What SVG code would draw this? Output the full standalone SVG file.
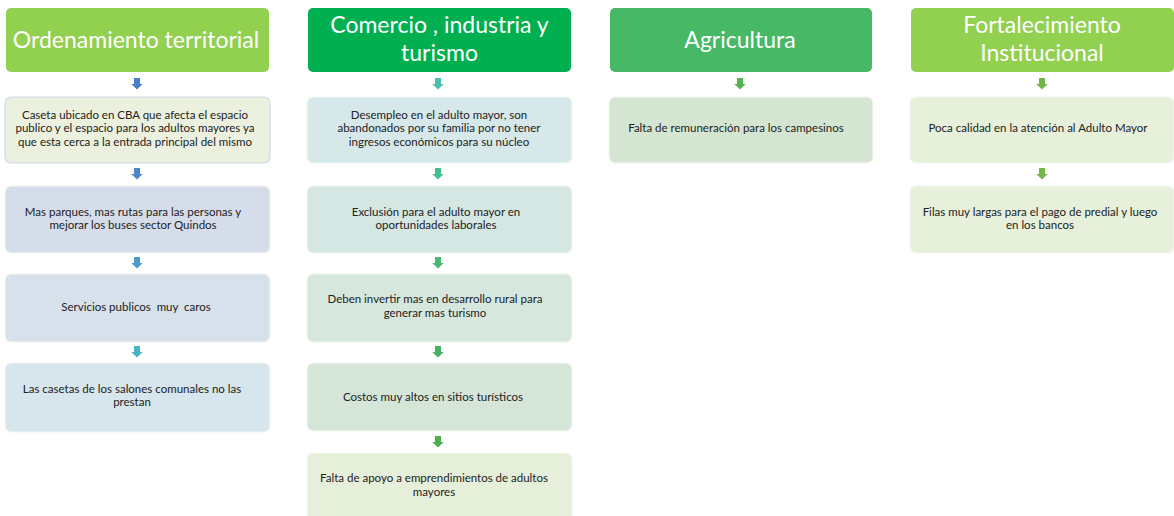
<svg xmlns="http://www.w3.org/2000/svg" xmlns:xlink="http://www.w3.org/1999/xlink" width="1174" height="516" viewBox="0 0 1174 516">
<style>
.hd{fill:#fff;font-family:Lato,"Open Sans",sans-serif;font-size:23px;text-anchor:middle}
.tx{fill:#222;font-family:Lato,"Open Sans",sans-serif;font-size:11.5px;text-anchor:middle}
.bx{stroke:#f4f7f2;stroke-width:1.2}
</style>
<defs>
<path id="arr" d="M-3,0 h6 v6 h2.7 l-5.7,5.5 l-5.7,-5.5 h2.7 z"/>
</defs>
<rect width="1174" height="516" fill="#fff"/>

<g id="connectors">
<use xlink:href="#arr" x="137" y="78" fill="#4A7FC6"/>
<use xlink:href="#arr" x="137" y="168" fill="#4C87C9"/>
<use xlink:href="#arr" x="137" y="257" fill="#4A9DC9"/>
<use xlink:href="#arr" x="137" y="346" fill="#4AB3C6"/>
<use xlink:href="#arr" x="438" y="78" fill="#4CBFB0"/>
<use xlink:href="#arr" x="438" y="168" fill="#44BD8F"/>
<use xlink:href="#arr" x="438" y="257" fill="#4AB872"/>
<use xlink:href="#arr" x="438" y="346" fill="#47B362"/>
<use xlink:href="#arr" x="438" y="436" fill="#4EAE4E"/>
<use xlink:href="#arr" x="740" y="78" fill="#56B452"/>
<use xlink:href="#arr" x="1042" y="78" fill="#6FB744"/>
<use xlink:href="#arr" x="1042" y="168" fill="#74B846"/>
</g>

<g id="h1"><rect x="6" y="8" width="263" height="64" rx="5" fill="#92D050"/><text class="hd" x="136" y="48">Ordenamiento territorial</text></g>
<g id="h2"><rect x="308" y="8" width="263" height="64" rx="5" fill="#00B050"/><text class="hd" x="439.5" y="33">Comercio , industria y</text><text class="hd" x="439.5" y="61">turismo</text></g>
<g id="h3"><rect x="610" y="8" width="262" height="64" rx="5" fill="#47B865"/><text class="hd" x="740" y="48">Agricultura</text></g>
<g id="h4"><rect x="911" y="8" width="263" height="64" rx="5" fill="#92D050"/><text class="hd" x="1042" y="33">Fortalecimiento</text><text class="hd" x="1042" y="61">Institucional</text></g>

<g id="c1b1"><rect class="bx" x="5" y="97" width="265" height="66" rx="6" fill="#EBF1DE" style="stroke:#CFD9EA"/><text class="tx" x="135" y="119">Caseta ubicado en CBA que afecta el espacio</text><text class="tx" x="135" y="132">publico y el espacio para los adultos mayores ya</text><text class="tx" x="135" y="146">que esta cerca a la entrada principal del mismo</text></g>
<g id="c1b2"><rect class="bx" x="5" y="186" width="265" height="67" rx="6" fill="#D5DDEA"/><text class="tx" x="133" y="216">Mas parques, mas rutas para las personas y</text><text class="tx" x="133" y="229">mejorar los buses sector Quindos</text></g>
<g id="c1b3"><rect class="bx" x="5" y="274" width="265" height="68" rx="6" fill="#D6E1EB"/><text class="tx" x="136" y="311" style="white-space:pre">Servicios publicos  muy  caros</text></g>
<g id="c1b4"><rect class="bx" x="5" y="363" width="265" height="69" rx="6" fill="#D6E6EC"/><text class="tx" x="132" y="393">Las casetas de los salones comunales no las</text><text class="tx" x="132" y="406">prestan</text></g>

<g id="c2b1"><rect class="bx" x="307" y="97" width="265" height="66" rx="6" fill="#D7E8EA"/><text class="tx" x="439" y="119">Desempleo en el adulto mayor, son</text><text class="tx" x="439" y="132">abandonados por su familia por no tener</text><text class="tx" x="439" y="146">ingresos económicos para su núcleo</text></g>
<g id="c2b2"><rect class="bx" x="307" y="186" width="265" height="67" rx="6" fill="#D5E7E3"/><text class="tx" x="436" y="216">Exclusión para el adulto mayor en</text><text class="tx" x="436" y="229">oportunidades laborales</text></g>
<g id="c2b3"><rect class="bx" x="307" y="274" width="265" height="68" rx="6" fill="#D6E8DE"/><text class="tx" x="435" y="303">Deben invertir mas en desarrollo rural para</text><text class="tx" x="435" y="317">generar mas turismo</text></g>
<g id="c2b4"><rect class="bx" x="307" y="363" width="265" height="68" rx="6" fill="#D5E6D8"/><text class="tx" x="433" y="401">Costos muy altos en sitios turísticos</text></g>
<g id="c2b5"><rect class="bx" x="307" y="453" width="265" height="70" rx="6" fill="#E6EFDA"/><text class="tx" x="434" y="482">Falta de apoyo a emprendimientos de adultos</text><text class="tx" x="434" y="496">mayores</text></g>

<g id="c3b1"><rect class="bx" x="609" y="97" width="264" height="66" rx="6" fill="#D4E6D2"/><text class="tx" x="736" y="132">Falta de remuneración para los campesinos</text></g>

<g id="c4b1"><rect class="bx" x="910" y="97" width="264" height="66" rx="6" fill="#E6F0DA"/><text class="tx" x="1038" y="132">Poca calidad en la atención al Adulto Mayor</text></g>
<g id="c4b2"><rect class="bx" x="910" y="186" width="264" height="67" rx="6" fill="#E6F0DA"/><text class="tx" x="1040" y="216">Filas muy largas para el pago de predial y luego</text><text class="tx" x="1040" y="229">en los bancos</text></g>
</svg>
